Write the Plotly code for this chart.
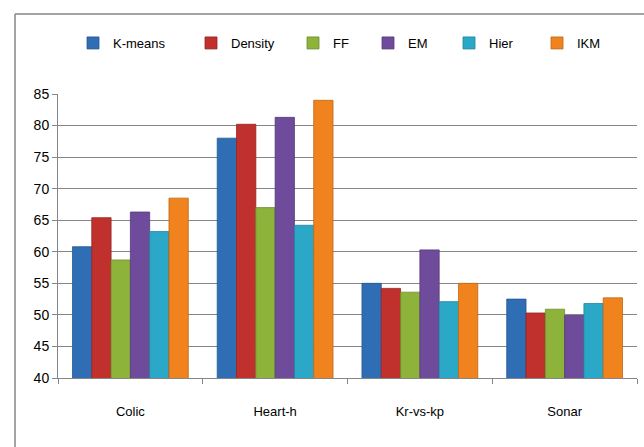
import plotly.graph_objects as go

categories = ["Colic", "Heart-h", "Kr-vs-kp", "Sonar"]
series_names = ["K-means", "Density", "FF", "EM", "Hier", "IKM"]
kmeans = [60.8, 78.0, 55.0, 52.5]
density = [65.4, 80.2, 54.2, 50.3]
ff = [58.7, 67.0, 53.6, 50.9]
em = [66.3, 81.3, 60.3, 49.9]
hier = [63.2, 64.2, 52.1, 51.8]
ikm = [68.5, 84.0, 55.0, 52.7]
y_ticks = [40, 45, 50, 55, 60, 65, 70, 75, 80, 85]

series_values = [kmeans, density, ff, em, hier, ikm]
colors = ["#2F6EB5", "#C0312D", "#8DB33B", "#6F4B9B", "#2BA8C7", "#F0831E"]
edge = ["#24578F", "#962521", "#6E8C2D", "#563A79", "#21839C", "#BE6715"]
legend_px = [73, 191, 293, 368, 449, 537]

W, H = 644, 447
ML, MR, MT, MB = 58, 7, 94, 69
PW, PH = W - ML - MR, H - MT - MB
font_family = "Liberation Sans, Arial"


def px_x(px):
    return (px - ML) / PW


def px_y(py):
    return 1 + (MT - py) / PH


fig = go.Figure()
legend_layouts = {}
for i, (name, vals) in enumerate(zip(series_names, series_values)):
    lg = "legend" if i == 0 else f"legend{i+1}"
    fig.add_trace(go.Bar(
        x=categories, y=vals, name=name,
        marker=dict(color=colors[i], line=dict(color=edge[i], width=0.8)),
        legend=lg,
    ))
    legend_layouts[lg] = dict(
        x=px_x(legend_px[i]), y=px_y(43), xanchor="left", yanchor="middle",
        orientation="h", bgcolor="rgba(0,0,0,0)",
        font=dict(family=font_family, size=13, color="#000000"),
        itemwidth=30, tracegroupgap=0,
    )

fig.update_layout(
    width=W, height=H,
    margin=dict(l=ML, r=MR, t=MT, b=MB),
    paper_bgcolor="white", plot_bgcolor="white",
    barmode="group", bargap=0.2, bargroupgap=0,
    font=dict(family=font_family, size=13, color="#000000"),
    xaxis=dict(
        showgrid=False, showline=True, linecolor="#868686", linewidth=1,
        ticks="outside", tickson="boundaries", ticklen=5, tickcolor="#868686",
        tickfont=dict(family=font_family, size=13), ticklabelstandoff=21,
    ),
    yaxis=dict(
        range=[40, 85], tickvals=y_ticks, showgrid=True, gridcolor="#868686",
        gridwidth=1, showline=True, linecolor="#868686", linewidth=1,
        ticks="outside", ticklen=5, tickcolor="#868686",
        tickfont=dict(family=font_family, size=14), zeroline=False,
    ),
    showlegend=True,
    **legend_layouts,
)

# chart border (top and left edges visible)
fig.add_shape(type="line", xref="paper", yref="paper",
              x0=px_x(15), x1=px_x(660), y0=px_y(14), y1=px_y(14),
              line=dict(color="#868686", width=1.5))
fig.add_shape(type="line", xref="paper", yref="paper",
              x0=px_x(15), x1=px_x(15), y0=px_y(460), y1=px_y(14),
              line=dict(color="#868686", width=1.5))

fig.write_html("out.html")
